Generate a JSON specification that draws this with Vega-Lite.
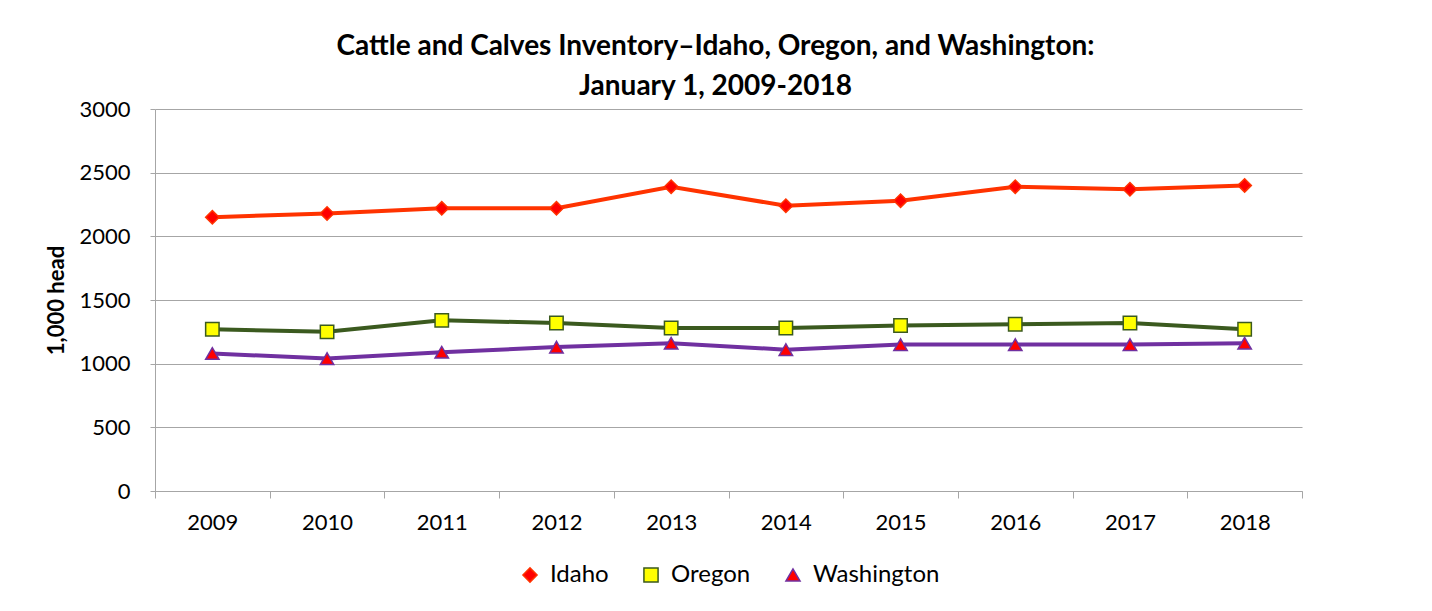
{
  "$schema": "https://vega.github.io/schema/vega-lite/v6.json",
  "width": 1147,
  "height": 382,
  "autosize": {"type": "none"},
  "padding": {"left": 155, "top": 109, "right": 130, "bottom": 120},
  "background": "white",
  "title": {
    "text": ["Cattle and Calves Inventory–Idaho, Oregon, and Washington:", "January 1, 2009-2018"],
    "font": "Lato",
    "fontSize": 28,
    "fontWeight": "bold",
    "color": "black",
    "lineHeight": 40,
    "anchor": "middle",
    "offset": -3,
    "dx": -13
  },
  "config": {
    "view": {"stroke": null},
    "font": "Lato",
    "legend": {"layout": {"bottom": {"anchor": "middle"}}}
  },
  "data": {
    "values": [
      {"Year": "2009", "State": "Idaho", "Value": 2150},
      {"Year": "2010", "State": "Idaho", "Value": 2180},
      {"Year": "2011", "State": "Idaho", "Value": 2220},
      {"Year": "2012", "State": "Idaho", "Value": 2220},
      {"Year": "2013", "State": "Idaho", "Value": 2390},
      {"Year": "2014", "State": "Idaho", "Value": 2240},
      {"Year": "2015", "State": "Idaho", "Value": 2280},
      {"Year": "2016", "State": "Idaho", "Value": 2390},
      {"Year": "2017", "State": "Idaho", "Value": 2370},
      {"Year": "2018", "State": "Idaho", "Value": 2400},
      {"Year": "2009", "State": "Oregon", "Value": 1270},
      {"Year": "2010", "State": "Oregon", "Value": 1250},
      {"Year": "2011", "State": "Oregon", "Value": 1340},
      {"Year": "2012", "State": "Oregon", "Value": 1320},
      {"Year": "2013", "State": "Oregon", "Value": 1280},
      {"Year": "2014", "State": "Oregon", "Value": 1280},
      {"Year": "2015", "State": "Oregon", "Value": 1300},
      {"Year": "2016", "State": "Oregon", "Value": 1310},
      {"Year": "2017", "State": "Oregon", "Value": 1320},
      {"Year": "2018", "State": "Oregon", "Value": 1270},
      {"Year": "2009", "State": "Washington", "Value": 1080},
      {"Year": "2010", "State": "Washington", "Value": 1040},
      {"Year": "2011", "State": "Washington", "Value": 1090},
      {"Year": "2012", "State": "Washington", "Value": 1130},
      {"Year": "2013", "State": "Washington", "Value": 1160},
      {"Year": "2014", "State": "Washington", "Value": 1110},
      {"Year": "2015", "State": "Washington", "Value": 1150},
      {"Year": "2016", "State": "Washington", "Value": 1150},
      {"Year": "2017", "State": "Washington", "Value": 1150},
      {"Year": "2018", "State": "Washington", "Value": 1160}
    ]
  },
  "encoding": {
    "x": {
      "field": "Year",
      "type": "ordinal",
      "bandPosition": 0.5,
      "scale": {"type": "band", "paddingInner": 0, "paddingOuter": 0},
      "axis": {
        "title": null,
        "labelAngle": 0,
        "tickBand": "extent",
        "domainColor": "#A6A6A6",
        "tickColor": "#A6A6A6",
        "tickSize": 7,
        "labelFont": "Lato",
        "labelFontSize": 22,
        "labelColor": "black",
        "labelPadding": 14,
        "grid": false
      }
    },
    "y": {
      "field": "Value",
      "type": "quantitative",
      "scale": {"domain": [0, 3000], "nice": false},
      "axis": {
        "title": "1,000 head",
        "titleFont": "Lato",
        "titleFontSize": 22,
        "titleFontWeight": "bold",
        "titleColor": "black",
        "titlePadding": 10,
        "values": [0, 500, 1000, 1500, 2000, 2500, 3000],
        "format": "d",
        "labelFont": "Lato",
        "labelFontSize": 22,
        "labelColor": "black",
        "labelPadding": 20,
        "tickSize": 5,
        "tickColor": "#A6A6A6",
        "domainColor": "#A6A6A6",
        "gridColor": "#A6A6A6",
        "gridWidth": 1.2
      }
    }
  },
  "layer": [
    {
      "mark": {"type": "line", "strokeWidth": 4},
      "encoding": {
        "stroke": {
          "field": "State",
          "type": "nominal",
          "scale": {"domain": ["Idaho", "Oregon", "Washington"], "range": ["#FF3300", "#3B5A1F", "#7030A0"]},
          "legend": {
            "orient": "bottom",
            "direction": "horizontal",
            "title": null,
            "labelFont": "Lato",
            "labelFontSize": 24,
            "labelColor": "black",
            "symbolSize": 200,
            "symbolStrokeWidth": 1.5,
            "columnPadding": 30,
            "labelOffset": 8,
            "offset": 30
          }
        }
      }
    },
    {
      "mark": {"type": "point", "filled": true, "size": 180, "strokeWidth": 1.5, "opacity": 1},
      "encoding": {
        "stroke": {"field": "State", "type": "nominal"},
        "fill": {
          "field": "State",
          "type": "nominal",
          "scale": {"domain": ["Idaho", "Oregon", "Washington"], "range": ["#FF0000", "#FFFF00", "#FF0000"]}
        },
        "shape": {
          "field": "State",
          "type": "nominal",
          "scale": {"domain": ["Idaho", "Oregon", "Washington"], "range": ["diamond", "square", "triangle-up"]}
        }
      }
    }
  ]
}
